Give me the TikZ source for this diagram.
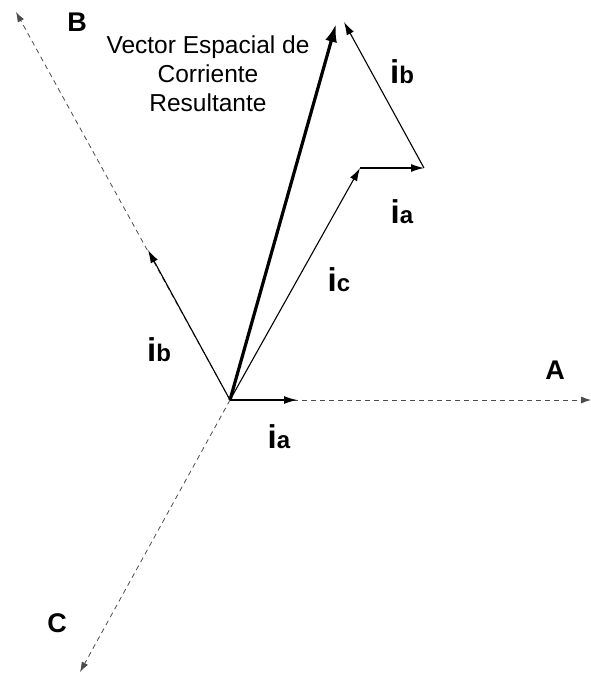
\documentclass[tikz,border=0pt]{standalone}
\usepackage{fontspec}
\setmainfont{Liberation Sans}
\usetikzlibrary{arrows.meta}
\newcommand\curlab[1]{{\fontsize{33}{33}\selectfont\bfseries i}{\fontsize{24}{24}\selectfont\bfseries #1}}
\tikzset{
  axisline/.style={dashed, dash pattern=on 5pt off 4pt, draw=black!70, line width=0.8pt, -{Latex[length=10pt,width=7pt]}},
  vec/.style={line width=1.1pt, -{Latex[length=13pt,width=8pt]}},
  resvec/.style={line width=3.2pt, -{Latex[length=18pt,width=12pt]}},
  axlab/.style={font=\fontsize{27}{27}\selectfont\bfseries},
  curr/.style={inner sep=0pt},
}
\begin{document}
\begin{tikzpicture}[x=1pt,y=-1pt]
\useasboundingbox (0,0) rectangle (591,675);
\coordinate (O) at (230,400);
\coordinate (Atip) at (591,400);
\coordinate (Btip) at (16,12);
\coordinate (Ctip) at (80,672);
\coordinate (ia1) at (297,400);
\coordinate (ib1) at (148,250);
\coordinate (ic) at (360,168);
\coordinate (ia2) at (424,168);
\coordinate (ib2) at (344,22);
\coordinate (R) at (336,24);
% axes
\draw[axisline] (O) -- (Atip);
\draw[axisline] (O) -- (Btip);
\draw[axisline] (O) -- (Ctip);
% vectors
\draw[vec] (O) -- (ia1);
\draw[vec] (O) -- (ib1);
\draw[vec] (O) -- (ic);
\draw[vec] (ic) -- (ia2);
\draw[vec] (ia2) -- (ib2);
\draw[resvec] (O) -- (R);
% labels
\node[axlab] (Alab) at (555,370) {A};
\node[axlab] (Blab) at (77,22) {B};
\node[axlab] (Clab) at (57,623) {C};
\node[align=center, font=\fontsize{24.5}{29}\selectfont] (title) at (208,74) {Vector Espacial de\\Corriente\\Resultante};
\node[curr] (lib2) at (402,72) {\curlab{b}};
\node[curr] (lia2) at (402,212) {\curlab{a}};
\node[curr] (lic) at (339,280) {\curlab{c}};
\node[curr] (lib1) at (159,350) {\curlab{b}};
\node[curr] (lia1) at (279,437) {\curlab{a}};
\end{tikzpicture}
\end{document}
